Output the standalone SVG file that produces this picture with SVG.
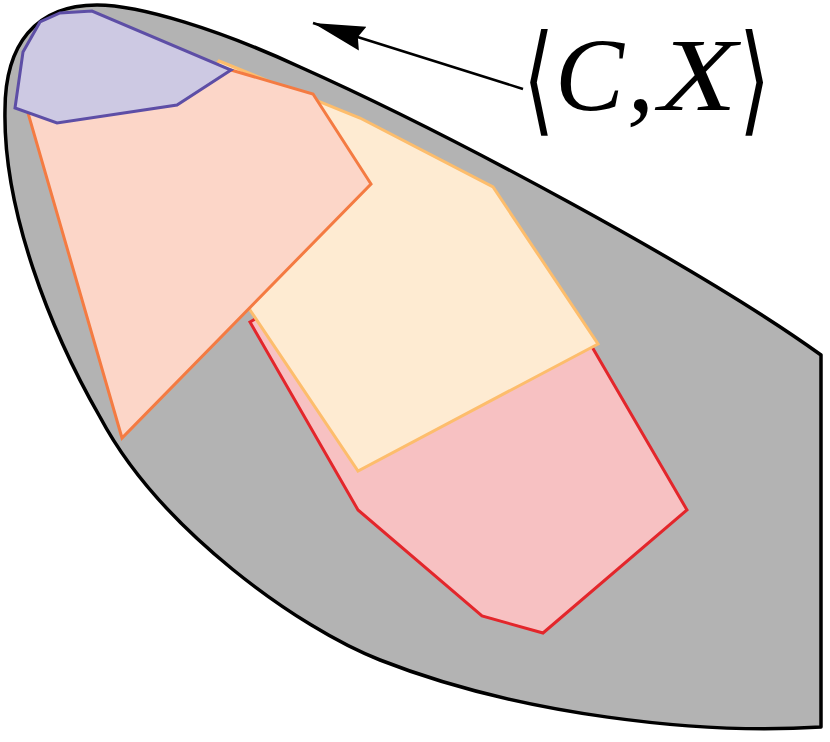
<svg xmlns="http://www.w3.org/2000/svg" width="830" height="742" viewBox="0 0 830 742">
  <style>
    .poly { stroke-width: 3; stroke-linejoin: miter; }
    .math { font-family: "Liberation Serif", "DejaVu Serif", serif; font-style: italic; fill: #000; }
    .br { font-family: "DejaVu Sans", sans-serif; font-size: 80px; fill: #000; }
  </style>
  <defs>
    <marker id="arrowhead" markerUnits="userSpaceOnUse" markerWidth="60" markerHeight="40" refX="52" refY="20" orient="auto" viewBox="0 0 60 40">
      <path d="M52,20 L0,7.5 L5,20 L0,32.5 Z" fill="#000"/>
    </marker>
  </defs>

  <g id="region">
    <path d="M821,355 L821,727 C700,735 520,715 380,660 C300,629 160,530 100,417 C50,330 3,210 5,110 C5,45 35,5 97,5 C140,5 220,30 300,67 C450,134 700,268 821,355 Z" fill="#b3b3b3" stroke="#000" stroke-width="3.5" stroke-linejoin="round"/>
  </g>

  <g id="red">
    <polygon class="poly" points="250,322 262,315 588,340 687,510 543,633 482,616 358,510" fill="#f7c1c2" stroke="#e3262b"/>
  </g>
  <g id="yellow">
    <polygon class="poly" points="219,61 360,118 493,187 598,344 358,471 250,310 205,80" fill="#feebd2" stroke="#fdbd6c"/>
  </g>
  <g id="orange">
    <polygon class="poly" points="28,113 40,40 231,70 313,94 371,184 122,438" fill="#fcd6c8" stroke="#f47b42"/>
  </g>
  <g id="purple">
    <polygon class="poly" points="15,108 23,52 40,22 60,13 92,11 231,70 177,105 57,123" fill="#cdc9e3" stroke="#5d4ea6"/>
  </g>

  <g id="connectors">
    <path d="M523,89 L313,23" stroke="#000" stroke-width="2.5" fill="none" marker-end="url(#arrowhead)"/>
  </g>

  <g id="label">
    <text class="br" transform="translate(523,120) scale(1,1.5)">⟨</text>
    <text class="math" x="555" y="110" font-size="104" textLength="69" lengthAdjust="spacingAndGlyphs">C</text>
    <text class="math" x="627" y="110" font-size="110" font-style="normal">,</text>
    <text class="math" x="659" y="110" font-size="104" textLength="78" lengthAdjust="spacingAndGlyphs">X</text>
    <text class="br" transform="translate(739,120) scale(1,1.5)">⟩</text>
  </g>
</svg>
